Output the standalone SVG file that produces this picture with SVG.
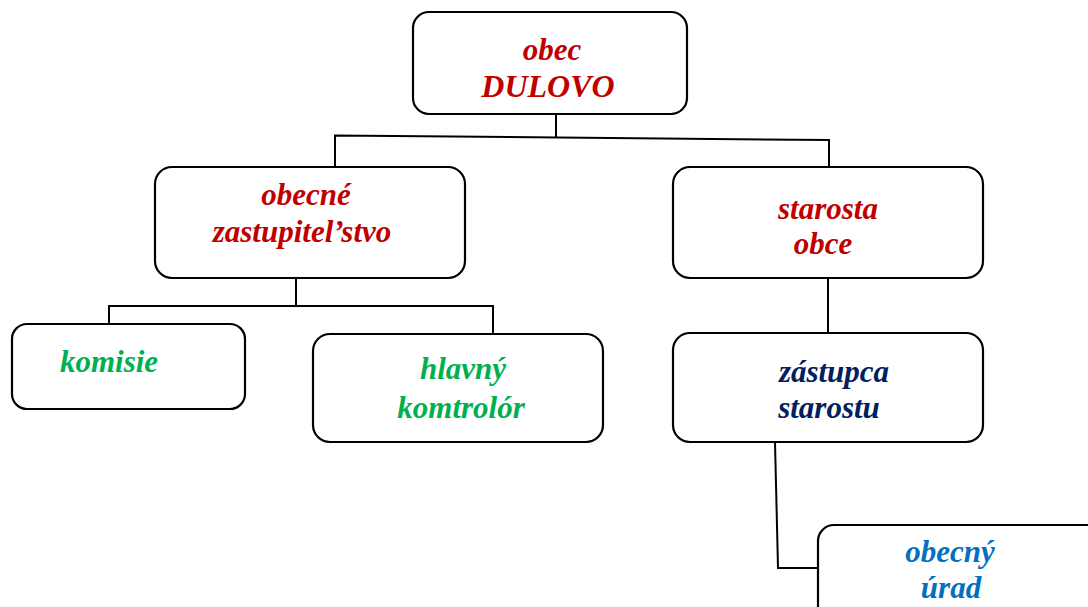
<svg xmlns="http://www.w3.org/2000/svg" width="1088" height="607" viewBox="0 0 1088 607">
<style>
.box{fill:#fff;stroke:#000;stroke-width:2.2}
.conn{fill:none;stroke:#000;stroke-width:2}
text{font-family:"Liberation Serif","Times New Roman",serif;font-weight:bold;font-style:italic;font-size:31px;text-anchor:middle}
.red{fill:#C00000}.green{fill:#00B050}.navy{fill:#002060}.blue{fill:#0070C0}
</style>
<rect width="1088" height="607" fill="#fff"/>
<g id="connectors">
<path class="conn" d="M556,114 V137"/>
<path class="conn" d="M335,167 V135.5 L829,140 V167"/>
<path class="conn" d="M296,278 V306 M109,324 V306 H493 V334"/>
<path class="conn" d="M828,278 V333"/>
<path class="conn" d="M775,442 L778,568 H818"/>
</g>
<g id="obec">
<rect class="box" x="413" y="12" width="274" height="102" rx="16"/>
<text class="red" x="552" y="60">obec</text>
<text class="red" x="548" y="97" style="font-size:32px">DULOVO</text>
</g>
<g id="zastupitelstvo">
<rect class="box" x="155" y="167" width="310" height="111" rx="17"/>
<text class="red" x="306" y="205">obecné</text>
<text class="red" x="302" y="242">zastupitel’stvo</text>
</g>
<g id="starosta">
<rect class="box" x="673" y="167" width="310" height="111" rx="17"/>
<text class="red" x="828" y="219">starosta</text>
<text class="red" x="823" y="254">obce</text>
</g>
<g id="komisie">
<rect class="box" x="12" y="324" width="233" height="85" rx="15"/>
<text class="green" x="109" y="372">komisie</text>
</g>
<g id="kontrolor">
<rect class="box" x="313" y="334" width="290" height="108" rx="17"/>
<text class="green" x="463" y="379">hlavný</text>
<text class="green" x="461" y="418">komtrolór</text>
</g>
<g id="zastupca">
<rect class="box" x="673" y="333" width="310" height="109" rx="17"/>
<text class="navy" x="834" y="382">zástupca</text>
<text class="navy" x="829" y="418">starostu</text>
</g>
<g id="urad">
<rect class="box" x="818" y="525" width="300" height="110" rx="16"/>
<text class="blue" x="950" y="562">obecný</text>
<text class="blue" x="951" y="598">úrad</text>
</g>
</svg>
